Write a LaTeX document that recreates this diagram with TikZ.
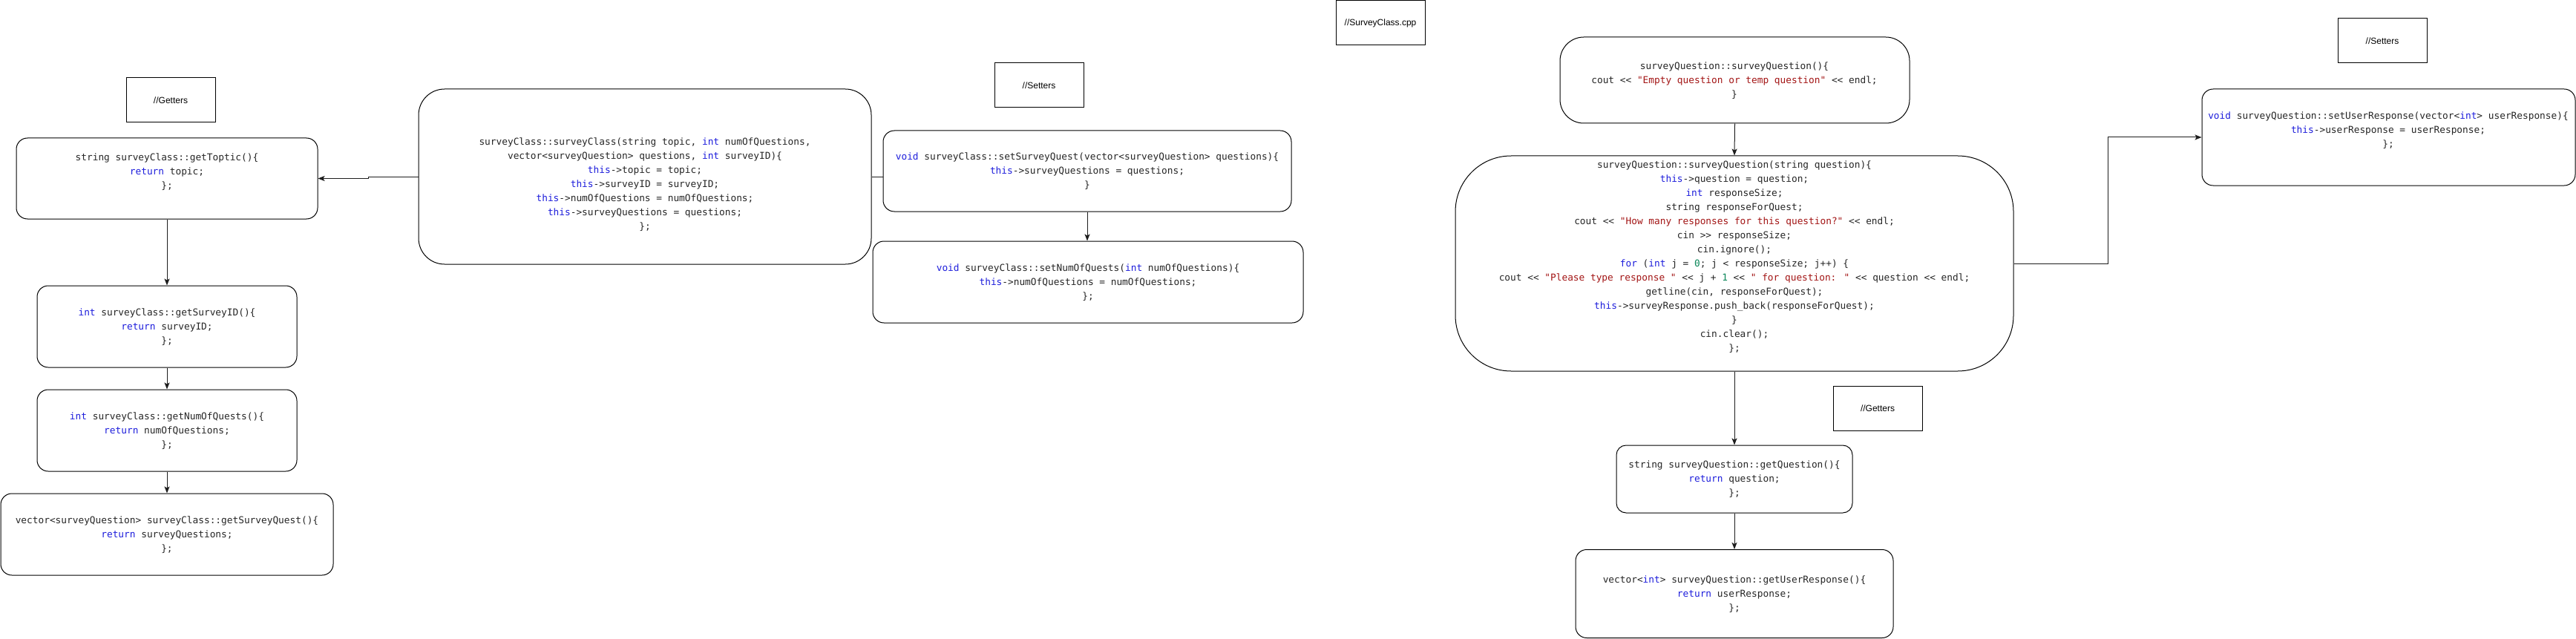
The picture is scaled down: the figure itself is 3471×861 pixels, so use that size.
\documentclass[tikz,border=0pt]{standalone}
\usepackage{fontspec}
\usetikzlibrary{arrows.meta}
\newfontfamily\codefont{DejaVu Sans Mono}[Ligatures=TeXOff]
\newfontfamily\labfont{Liberation Sans}
\definecolor{kwblue}{RGB}{30,30,220}
\definecolor{strred}{RGB}{163,21,21}
\definecolor{numgreen}{RGB}{9,134,88}
\definecolor{linegray}{RGB}{30,30,30}
\newcommand\ckw[1]{\textcolor{kwblue}{#1}}
\newcommand\cstr[1]{\textcolor{strred}{#1}}
\newcommand\cnum[1]{\textcolor{numgreen}{#1}}
\tikzset{
  codebox/.style={draw=black, line width=1pt, fill=white, rectangle, inner sep=0pt},
  labbox/.style={draw=black, line width=1pt, fill=white, rectangle, inner sep=0pt,
    minimum width=120pt, minimum height=60pt, font=\labfont\fontsize{12pt}{14pt}\selectfont},
  codetext/.style={inner sep=0pt, align=center, text=black!85,
    font=\codefont\fontsize{12.8pt}{19pt}\selectfont},
  conn/.style={draw=linegray, line width=1pt},
  arr/.style={conn, -{Stealth[length=9pt,width=7pt,inset=2pt]}}
}
\begin{document}
\begin{tikzpicture}[x=1pt,y=-1pt]
\path[use as bounding box, fill=white] (0,0) rectangle (3471,861);

% labels
\node[labbox] (lgetters1) at (230,135) {//Getters};
\node[labbox] (lsetters1) at (1400,115) {//Setters};
\node[labbox] (lcpp) at (1860,31) {//SurveyClass.cpp};
\node[labbox] (lsetters2) at (3210,55) {//Setters};
\node[labbox] (lgetters2) at (2530,550) {//Getters};

% surveyClass boxes
\node[codebox, minimum width=406pt, minimum height=109pt, rounded corners=15pt] (gtopic) at (225,240.5) {};
\node[codebox, minimum width=350pt, minimum height=110pt, rounded corners=15pt] (gid) at (225,440) {};
\node[codebox, minimum width=350pt, minimum height=110pt, rounded corners=15pt] (gnum) at (225,580) {};
\node[codebox, minimum width=448pt, minimum height=110pt, rounded corners=15pt] (gquest) at (225,720) {};
\node[codebox, minimum width=610pt, minimum height=236pt, rounded corners=35pt] (ctor) at (869,238) {};
\node[codebox, minimum width=550pt, minimum height=109pt, rounded corners=15pt] (squest) at (1465,230.5) {};
\node[codebox, minimum width=580pt, minimum height=110pt, rounded corners=15pt] (snum) at (1466,380) {};

% surveyQuestion boxes
\node[codebox, minimum width=471pt, minimum height=116pt, rounded corners=32pt] (qdef) at (2337.5,108) {};
\node[codebox, minimum width=752pt, minimum height=290pt, rounded corners=75pt] (qctor) at (2337,355) {};
\node[codebox, minimum width=503pt, minimum height=130pt, rounded corners=15pt] (sresp) at (3218.5,185) {};
\node[codebox, minimum width=318pt, minimum height=91pt, rounded corners=13pt] (gq) at (2337,645.5) {};
\node[codebox, minimum width=428pt, minimum height=119pt, rounded corners=15pt] (gresp) at (2337,800) {};

% texts
\node[codetext] (gtopict) at (225,232) {string surveyClass::getToptic()\{\\ \ckw{return} topic;\\ \};};
\node[codetext] (gidt) at (225,441) {\ckw{int} surveyClass::getSurveyID()\{\\ \ckw{return} surveyID;\\ \};};
\node[codetext] (gnumt) at (225,581) {\ckw{int} surveyClass::getNumOfQuests()\{\\ \ckw{return} numOfQuestions;\\ \};};
\node[codetext] (gquestt) at (225,721) {vector<surveyQuestion> surveyClass::getSurveyQuest()\{\\ \ckw{return} surveyQuestions;\\ \};};
\node[codetext] (ctort) at (869,249) {surveyClass::surveyClass(string topic, \ckw{int} numOfQuestions,\\
vector<surveyQuestion> questions, \ckw{int} surveyID)\{\\
\ckw{this}->topic = topic;\\
\ckw{this}->surveyID = surveyID;\\
\ckw{this}->numOfQuestions = numOfQuestions;\\
\ckw{this}->surveyQuestions = questions;\\
\};};
\node[codetext] (squestt) at (1465,231) {\ckw{void} surveyClass::setSurveyQuest(vector<surveyQuestion> questions)\{\\ \ckw{this}->surveyQuestions = questions;\\ \}};
\node[codetext] (snumt) at (1466,381) {\ckw{void} surveyClass::setNumOfQuests(\ckw{int} numOfQuestions)\{\\ \ckw{this}->numOfQuestions = numOfQuestions;\\ \};};
\node[codetext] (qdeft) at (2337,109) {surveyQuestion::surveyQuestion()\{\\ cout << \cstr{"Empty question or temp question"} << endl;\\ \}};
\node[codetext] (qctort) at (2337,346.5) {surveyQuestion::surveyQuestion(string question)\{\\
\ckw{this}->question = question;\\
\ckw{int} responseSize;\\
string responseForQuest;\\
cout << \cstr{"How many responses for this question?"} << endl;\\
cin >> responseSize;\\
cin.ignore();\\
\ckw{for} (\ckw{int} j = \cnum{0}; j < responseSize; j++) \{\\
cout << \cstr{"Please type response "} << j + \cnum{1} << \cstr{" for question: "} << question << endl;\\
getline(cin, responseForQuest);\\
\ckw{this}->surveyResponse.push\_back(responseForQuest);\\
\}\\
cin.clear();\\
\};};
\node[codetext] (sresptt) at (3218,176) {\ckw{void} surveyQuestion::setUserResponse(vector<\ckw{int}> userResponse)\{\\ \ckw{this}->userResponse = userResponse;\\ \};};
\node[codetext] (gqt) at (2337,646) {string surveyQuestion::getQuestion()\{\\ \ckw{return} question;\\ \};};
\node[codetext] (grespt) at (2337,801) {vector<\ckw{int}> surveyQuestion::getUserResponse()\{\\ \ckw{return} userResponse;\\ \};};

% connectors
\coordinate (j1) at (496,238);
\coordinate (j2) at (2840,355);
\draw[arr] (ctor.west) -- (j1) |- (gtopic.east);
\draw[conn] (ctor.east) -- (ctor.east -| squest.west);
\draw[arr] (gtopic.south) -- (gid.north);
\draw[arr] (gid.south) -- (gnum.north);
\draw[arr] (gnum.south) -- (gquest.north);
\draw[arr] (squest.south) -- (squest.south |- snum.north);
\draw[arr] (qdef.south) -- (qctor.north);
\draw[arr] (qctor.east) -- (j2) |- (sresp.west);
\draw[arr] (qctor.south) -- (gq.north);
\draw[arr] (gq.south) -- (gresp.north);
\end{tikzpicture}
\end{document}
